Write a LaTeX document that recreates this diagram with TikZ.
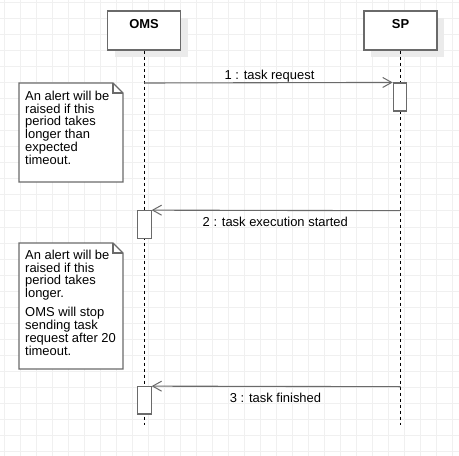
\documentclass[tikz,border=0pt]{standalone}
\usepackage{fontspec}
\setmainfont{Liberation Sans}
\usetikzlibrary{arrows.meta}
\definecolor{gridc}{HTML}{F0F0F0}
\definecolor{linec}{HTML}{6A6A6A}
\definecolor{shadowc}{HTML}{EBEBEB}
\begin{document}
\begin{tikzpicture}[x=1bp,y=-1bp,
  headbox/.style={draw=linec, line width=1.1bp, fill=white, minimum width=73bp, minimum height=39bp, inner sep=0pt},
  headtext/.style={font=\fontsize{13}{13}\selectfont\bfseries, anchor=base, inner sep=0pt},
  lifeline/.style={black, line width=0.9bp, dash pattern=on 3bp off 3bp},
  actbox/.style={draw=linec, line width=1.1bp, fill=white, minimum width=13.5bp, inner sep=0pt},
  msg/.style={draw=linec, line width=1.1bp, -{Straight Barb[length=9bp,width=10bp,line width=1bp]}},
  msglabel/.style={font=\fontsize{13}{13}\selectfont, anchor=base, inner sep=0pt},
  notebox/.style={draw=linec, line width=1.1bp, fill=white, line join=miter},
  notetext/.style={font=\fontsize{13}{13}\selectfont, align=left, anchor=north west, inner sep=0pt}
]
\useasboundingbox (0,0) rectangle (459,456);
\fill[white] (0,0) rectangle (459,456);
% grid
\foreach \gx in {4,20,...,452} \draw[gridc, line width=1bp] (\gx,0) -- (\gx,456);
\foreach \gy in {3,19,...,451} \draw[gridc, line width=1bp] (0,\gy) -- (459,\gy);

% shadows
\fill[shadowc] (114.5,17.7) rectangle (187.5,56.7);
\fill[shadowc] (370.5,17.7) rectangle (443.5,56.7);

% head boxes
\node[headbox] (oms) at (144,30.5) {};
\node[headbox] (sp) at (400.5,30.5) {};
\node[headtext] (omslabel) at (144,28.3) {OMS};
\node[headtext] (splabel) at (400.5,28.3) {SP};

% lifelines
\coordinate (omsend) at (144,425);
\coordinate (spend) at (400.5,425);
\draw[lifeline] (oms.south) -- (omsend);
\draw[lifeline] (sp.south) -- (spend);

% activations
\node[actbox, minimum height=28bp] (act1) at (400,97) {};
\node[actbox, minimum height=28bp] (act2) at (144.3,224.7) {};
\node[actbox, minimum height=27.3bp] (act3) at (144.3,400.35) {};

% messages
\coordinate (m1start) at (144,83);
\coordinate (m2start) at (400.5,210.7);
\coordinate (m3start) at (400.5,386.7);
\draw[msg] (m1start) -- (act1.north west);
\draw[msg] (m2start) -- (act2.north east);
\draw[msg] (m3start) -- (act3.north east);
\node[msglabel] (l1) at (269.5,79.3) {1 : task request};
\node[msglabel] (l2) at (275.3,226.7) {2 : task execution started};
\node[msglabel] (l3) at (275.5,402.3) {3 : task finished};

% notes
\draw[notebox] (19,83) -- (113,83) -- (123,93) -- (123,182) -- (19,182) -- cycle;
\draw[linec, line width=1.1bp] (113,83) -- (113,93) -- (123,93);
\node[notetext] (note1) at (25,90.5) {An alert will be\\raised if this\\period takes\\longer than\\expected\\timeout.};

\draw[notebox] (19,243) -- (113,243) -- (123,253) -- (123,369) -- (19,369) -- cycle;
\draw[linec, line width=1.1bp] (113,243) -- (113,253) -- (123,253);
\node[notetext] (note2) at (25,249.5) {An alert will be\\raised if this\\period takes\\longer.\\[5.4bp]OMS will stop\\sending task\\request after 20\\timeout.};
\end{tikzpicture}
\end{document}
